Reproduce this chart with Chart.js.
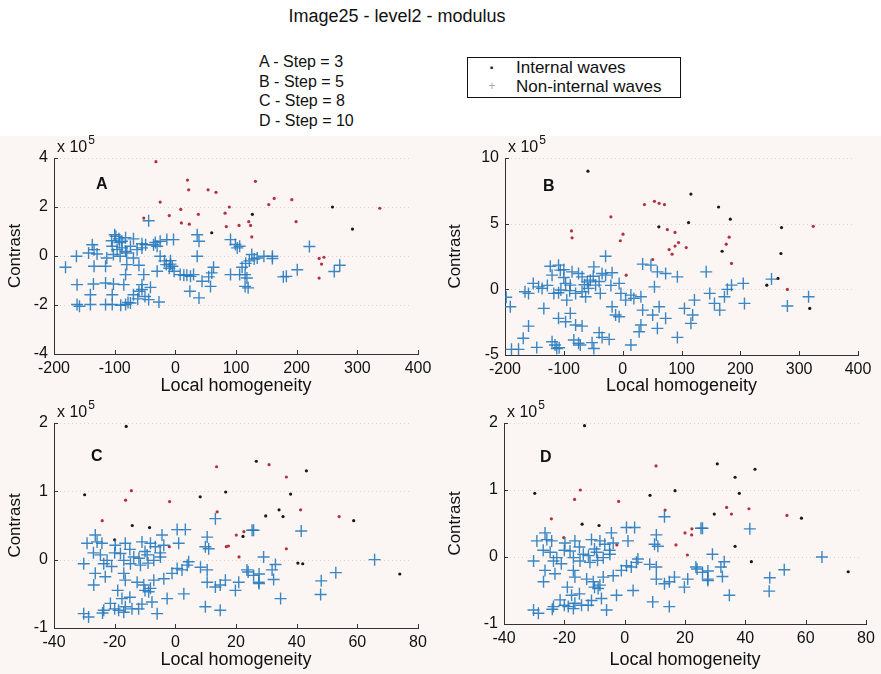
<!DOCTYPE html>
<html>
<head>
<meta charset="utf-8">
<script src="https://cdn.jsdelivr.net/npm/chart.js@4.4.1/dist/chart.umd.min.js"></script>
<style>
  body { margin: 0; width: 881px; height: 674px; position: relative; overflow: hidden; background: #fff;
         font-family: "Liberation Sans", Arial, sans-serif; color: #111; }
  #tint { position: absolute; left: 0; top: 136px; width: 881px; height: 538px; background: #fbf6f4; }
  canvas { position: absolute; }
  #title { position: absolute; left: 0; top: 6px; width: 794px; text-align: center; font-size: 18px; }
  #steps { position: absolute; left: 259px; top: 52px; font-size: 16px; line-height: 19.5px; }
  #legend { position: absolute; left: 467px; top: 57px; width: 212px; height: 39px; border: 1px solid #111;
            font-size: 17px; line-height: 19px; background: #fff; }
  #legend div { position: relative; padding-left: 48px; height: 19px; }
  #legend span { position: absolute; left: 17px; top: 0; width: 14px; text-align: center; }
</style>
</head>
<body>
<div id="tint"></div>
<div id="title">Image25 - level2 - modulus</div>
<div id="steps">
  <div>A - Step = 3</div>
  <div>B - Step = 5</div>
  <div>C - Step = 8</div>
  <div>D - Step = 10</div>
</div>
<div id="legend">
  <div><span style="color:#222;font-weight:bold">·</span>Internal waves</div>
  <div><span style="color:#aaa;font-size:12px">+</span>Non-internal waves</div>
</div>
<canvas id="pA" width="440" height="268" style="left:0;top:132px"></canvas>
<canvas id="pB" width="441" height="268" style="left:440px;top:132px"></canvas>
<canvas id="pC" width="440" height="277" style="left:0;top:397px"></canvas>
<canvas id="pD" width="441" height="277" style="left:440px;top:397px"></canvas>
<script>
// contrast values are in units of 10^5 (shown as "x 10^5" on each axis)
// [local homogeneity, contrast]

// A - step 3
const aNon = [[-100,0.87],[-93,0.7],[-82,0.75],[-69,0.7],[-55,0.5],[-33,0.55],[-25,0.6],[-14,0.67],[-3,0.67],
  [36,0.87],[39,0.6],[91,0.67],[99,0.47],[-98,0.8],[-92,0.55],[-105,0.62],[-88,0.6],
  [-137,0.46],[-134,0.26],[-104,0.4],[-96,0.26],[-88,0.33],[-82,0.19],[-74,0.4],[-63,0.26],[-55,0.33],
  [-49,0.46],[-36,0.46],[-30,0.4],[102,0.33],[106,0.4],
  [-163,-0.01],[-143,0.12],[-129,0.08],[-113,-0.08],[-102,0.06],[-91,-0.01],[-80,0.12],[-69,-0.08],
  [-25,-0.01],[-8,-0.19],[36,-0.01],[126,0.06],[135,-0.08],[146,-0.01],[160,-0.01],[160,-0.1],
  [-181,-0.46],[-134,-0.42],[-115,-0.42],[-80,-0.35],[-60,-0.38],[-8,-0.33],[-5,-0.42],[63,-0.46],
  [110,-0.46],[116,-0.3],[122,-0.2],[130,-0.12],[-18,-0.2],[-15,-0.35],[-10,-0.5],[-2,-0.62],
  [-82,-0.76],[-52,-0.76],[-30,-0.62],[8,-0.76],[14,-0.79],[19,-0.79],[25,-0.83],[30,-0.76],[60,-0.69],
  [55,-0.85],[91,-0.76],[115,-0.76],[118,-0.9],
  [-162,-1.17],[-135,-1.14],[-115,-1.1],[-102,-1.14],[-85,-1.17],[-55,-1.17],[-41,-1.28],[44,-1.03],
  [58,-1.24],[115,-1.24],[120,-1.3],
  [-140,-1.58],[-104,-1.58],[-69,-1.58],[-60,-1.44],[-55,-1.37],[-50,-1.65],[-62,-1.75],[24,-1.44],[39,-1.71],
  [-162,-1.98],[-158,-2.05],[-140,-1.98],[-115,-1.98],[-104,-1.98],[-90,-2.01],[-82,-1.98],[-78,-1.9],
  [-74,-1.92],[-44,-1.78],[-27,-1.88],
  [-44,1.44],[221,0.39],[201,-0.56],[183,-0.83],[178,-0.85],[262,-0.63],[271,-0.38],[106,-0.76]];
const aRed = [[-32,3.85],[20,3.1],[22,2.7],[54,2.7],[67,2.6],[132,3.05],[-25,2.2],[89,2.0],[154,2.1],
  [163,2.35],[192,2.3],[337,1.95],[-10,1.65],[9,1.9],[38,1.7],[82,1.75],[10,1.35],[23,1.3],[84,1.2],
  [105,1.25],[121,1.4],[124,1.25],[126,0.78],[199,1.4],[-52,1.55],[237,-0.1],[245,-0.05],[241,-0.33],[237,-0.9]];
const aDark = [[259,2.0],[292,1.1],[127,1.7],[60,0.95]];

// B - step 5
const bNon = [[-29,2.52],[-123,1.76],[-109,1.84],[-106,1.46],[-86,1.33],[-49,1.71],[-35,1.21],[-29,1.08],
  [-18,1.26],[-69,0.95],[-60,0.57],[-55,0.7],[-46,0.32],[-120,1.08],[-97,0.45],[-89,0.32],[-152,0.45],
  [-143,0.19],[-137,0.07],[-160,-0.31],[-166,-0.18],[-117,-0.31],[-109,-0.26],[-95,-0.82],[-80,-0.31],
  [-69,-0.18],[-63,-0.57],[-58,0.07],[-38,-0.31],[-6,0.45],[-3,-0.31],[-191,-1.33],[-134,-1.45],
  [-18,-1.33],[-12,-1.96],[-6,-2.09],[5,-0.82],[14,-0.44],[19,-0.69],[31,-0.57],[34,-1.58],[31,-2.72],
  [28,-3.23],[59,-2.97],[51,-1.96],[54,0.19],[62,-1.33],[73,-2.21],[34,1.92],[48,1.84],[59,1.33],
  [73,1.21],[93,0.95],[142,1.33],[93,-3.66],[122,-0.82],[105,-1.45],[119,-1.96],[116,-2.59],[148,-0.31],
  [156,-1.07],[165,-1.58],[173,-0.57],[178,0.0],[185,0.32],[205,0.45],[207,-1.07],[-109,-2.21],[-97,-2.47],
  [-89,-1.83],[-80,-2.72],[-69,-2.8],[-160,-2.8],[-169,-3.73],[-189,-4.57],[-177,-4.57],[-146,-4.42],
  [-120,-3.99],[-112,-4.5],[-115,-4.24],[-83,-3.86],[-72,-4.24],[-52,-4.06],[-49,-4.5],[-40,-3.3],
  [-35,-3.66],[-23,-3.81],[14,-4.24],[280,-1.27],[316,-0.57],[253,0.78],[-198,-0.6],
  [-100,0.9],[-75,1.2],[-90,-0.1],[-128,0.3],[-50,1.0],[-40,0.6],[-105,-0.05],[-65,0.35],[-20,0.3],
  [-108,-4.45],[-75,-4.1],[-100,1.5]];
const bRed = [[37,6.45],[54,6.7],[62,6.55],[71,6.45],[-20,5.52],[324,4.8],[-87,4.45],[-86,3.92],[0.6,4.2],
  [-4,3.7],[76,4.55],[89,4.33],[95,3.56],[89,3.29],[79,3.03],[84,2.68],[108,3.18],[181,3.97],[176,3.44],
  [185,1.97],[51,2.27],[6,1.08],[280,-0.01]];
const bDark = [[-59,9.0],[116,7.25],[163,6.27],[112,5.08],[183,5.34],[270,4.7],[61.5,4.76],[169,2.9],
  [269,2.73],[245,0.32],[264,0.83],[318,-1.45]];

// C - step 8
const cNon = [[13.2,0.6],[0.6,0.44],[3.3,0.44],[-4.4,0.36],[-26.4,0.36],[-29.1,0.24],[-25.8,0.26],
  [-24.2,0.24],[-19.8,0.21],[-16.5,0.24],[-11,0.26],[-8.2,0.24],[-6.6,0.19],[-3.8,0.21],[1.1,0.24],
  [10.5,0.33],[11,0.16],[9.9,0.19],[25.8,0.43],[-24.7,0.07],[-22.5,-0.01],[-18.1,0.09],[-17,-0.01],
  [-13.7,0.04],[-12,0.02],[-9.3,0.07],[-7.1,-0.01],[-4.9,0.04],[-14.8,-0.06],[-11.5,-0.08],[-30.2,-0.06],
  [-23.6,-0.06],[-26.4,-0.2],[-26.9,-0.37],[-23.1,-0.25],[-17,-0.2],[-16.5,-0.3],[-3.8,-0.28],[-1.1,-0.2],
  [0.6,-0.13],[2.2,-0.15],[3.9,-0.08],[4.4,-0.03],[8.3,-0.11],[10.5,-0.15],[-12.6,-0.33],[-10.4,-0.37],
  [-8.2,-0.42],[-8.8,-0.47],[-7.1,-0.3],[-2.7,-0.57],[2.8,-0.5],[10.5,-0.33],[13.2,-0.4],[14.8,-0.37],
  [16.5,-0.3],[19.8,-0.45],[20.9,-0.33],[23.6,-0.15],[25.8,-0.23],[27.5,-0.33],[29.1,0.04],[31.9,-0.15],
  [9.9,-0.69],[14.8,-0.74],[-30.2,-0.79],[-28.6,-0.84],[-23.6,-0.74],[-21.4,-0.64],[-17.6,-0.57],
  [-16.5,-0.69],[-14.3,-0.72],[-12.1,-0.72],[-18.7,-0.74],[-17,-0.77],[-7.7,-0.62],[-6,-0.79],
  [33,-0.07],[32.4,-0.29],[34.7,-0.57],[27.6,-0.21],[27.6,-0.35],[25.3,0.43],[41.5,0.42],[48.1,-0.31],
  [47.9,-0.51],[52.9,-0.19],[65.7,0.0],[24,-0.18],
  [-20,0.1],[-15,0.15],[-10,0.12],[-21,-0.1],[-9,-0.05],[-5,0.1],[-27,0.1],[-19,-0.45],[-15,-0.55],
  [-20,-0.72],[-10,-0.45],[-11,-0.65],[-24,-0.78]];
const cRed = [[30.9,1.39],[13.6,1.36],[36.6,1.21],[-14.5,1.01],[-16.4,0.87],[-1.9,0.85],[41.3,0.73],
  [13.8,0.7],[54,0.63],[-24.1,0.57],[20.1,0.36],[22.6,0.41],[16.8,0.19],[17.5,0.2],[36.6,0.16],[21,0.04],[-2,0.19]];
const cDark = [[-16.2,1.95],[26.7,1.44],[43.2,1.3],[-29.9,0.95],[8.2,0.92],[16.6,0.99],[38,0.96],[34.2,0.73],
  [29.8,0.64],[35.5,0.63],[58.8,0.57],[-14.2,0.5],[-8.5,0.47],[22.3,0.34],[-20,0.29],[40.4,-0.05],[42,-0.06],[74,-0.21]];

// D - step 10
const dNon = [[13.2,0.6],[0.6,0.44],[3.3,0.44],[-4.4,0.36],[-26.4,0.36],[-29.1,0.24],[-25.8,0.26],
  [-24.2,0.24],[-19.8,0.21],[-16.5,0.24],[-11,0.26],[-8.2,0.24],[-6.6,0.19],[-3.8,0.21],[1.1,0.24],
  [10.5,0.33],[11,0.16],[9.9,0.19],[25.8,0.43],[-24.7,0.07],[-22.5,-0.01],[-18.1,0.09],[-17,-0.01],
  [-13.7,0.04],[-12,0.02],[-9.3,0.07],[-7.1,-0.01],[-4.9,0.04],[-14.8,-0.06],[-11.5,-0.08],[-30.2,-0.06],
  [-23.6,-0.06],[-26.4,-0.2],[-26.9,-0.37],[-23.1,-0.25],[-17,-0.2],[-16.5,-0.3],[-3.8,-0.28],[-1.1,-0.2],
  [0.6,-0.13],[2.2,-0.15],[3.9,-0.08],[4.4,-0.03],[8.3,-0.11],[10.5,-0.15],[-12.6,-0.33],[-10.4,-0.37],
  [-8.2,-0.42],[-8.8,-0.47],[-7.1,-0.3],[-2.7,-0.57],[2.8,-0.5],[10.5,-0.33],[13.2,-0.4],[14.8,-0.37],
  [16.5,-0.3],[19.8,-0.45],[20.9,-0.33],[23.6,-0.15],[25.8,-0.23],[27.5,-0.33],[29.1,0.04],[31.9,-0.15],
  [9.3,-0.67],[14.8,-0.74],[-30.2,-0.79],[-28.6,-0.84],[-23.6,-0.74],[-21.4,-0.64],[-17.6,-0.57],
  [-16.5,-0.69],[-14.3,-0.72],[-12.1,-0.72],[-18.7,-0.74],[-17,-0.77],[-7.7,-0.62],[-6,-0.79],
  [33,-0.07],[32.4,-0.29],[34.7,-0.57],[27.6,-0.21],[27.6,-0.35],[25.3,0.43],[41.5,0.42],[48.1,-0.31],
  [47.9,-0.51],[52.9,-0.19],[65.4,0.0],[24,-0.18],
  [-20,0.1],[-15,0.15],[-10,0.12],[-21,-0.1],[-9,-0.05],[-5,0.1],[-27,0.1],[-19,-0.45],[-15,-0.55],
  [-20,-0.72],[-10,-0.45],[-11,-0.65],[-24,-0.78]];
const dRed = [[10.4,1.36],[-14.7,1.0],[-16.6,0.86],[-2,0.83],[33.8,0.74],[41.2,0.72],[13.4,0.7],[35.4,0.64],
  [53.8,0.62],[-24.3,0.57],[20,0.36],[22.3,0.42],[22.2,0.33],[-20.2,0.29],[17,0.18],[20.8,0.03],[-2.6,0.18]];
const dDark = [[-13.3,1.96],[30.7,1.39],[43.2,1.31],[36.6,1.19],[-29.8,0.95],[8.4,0.92],[16.7,0.99],[38,0.95],
  [29.7,0.64],[58.6,0.58],[-14.1,0.49],[-8.5,0.47],[36.6,0.16],[42,-0.07],[74.1,-0.22]];

const toXY = arr => arr.map(([x, y]) => ({ x, y }));
const FONT = '"Liberation Sans", Arial, sans-serif';

// inward ticks, faint dotted grid, the x 10^5 multiplier and the panel letter
const panelDeco = {
  id: "panelDeco",
  beforeDatasetsDraw(chart, args, opts) {
    const { ctx, chartArea: a, scales: { x, y } } = chart;
    ctx.save();
    ctx.lineWidth = 1;
    ctx.strokeStyle = "rgba(170,160,160,0.4)";
    ctx.setLineDash([1, 3]);
    y.ticks.forEach((t) => {
      const py = Math.round(y.getPixelForValue(t.value)) + 0.5;
      if (py > a.bottom - 2) return;
      ctx.beginPath(); ctx.moveTo(a.left + 6, py); ctx.lineTo(a.right - 6, py); ctx.stroke();
    });
    ctx.setLineDash([]);
    ctx.strokeStyle = "#333";
    x.ticks.forEach((t) => {
      const px = Math.round(x.getPixelForValue(t.value)) + 0.5;
      ctx.beginPath(); ctx.moveTo(px, a.bottom); ctx.lineTo(px, a.bottom - 4); ctx.stroke();
    });
    y.ticks.forEach((t) => {
      const py = Math.round(y.getPixelForValue(t.value)) + 0.5;
      ctx.beginPath(); ctx.moveTo(a.left, py); ctx.lineTo(a.left + 4, py); ctx.stroke();
    });
    ctx.fillStyle = "#111";
    ctx.textBaseline = "alphabetic";
    ctx.font = "16px " + FONT;
    ctx.fillText("x 10", a.left + 3, a.top - 6);
    const w = ctx.measureText("x 10").width;
    ctx.font = "12px " + FONT;
    ctx.fillText("5", a.left + 4 + w, a.top - 14);
    ctx.font = "bold 16px " + FONT;
    ctx.fillText(opts.tag, a.left + opts.tagX, a.top + opts.tagY);
    ctx.restore();
  },
};

const panels = [
  { id: "pA", tag: "A", tagX: 42, tagY: 31, xMin: -200, xMax: 400, xStep: 100, yMin: -4, yMax: 4, yStep: 2,
    yW: 54, xH: 46, padTop: 26, padRight: 22, non: aNon, red: aRed, dark: aDark },
  { id: "pB", tag: "B", tagX: 38, tagY: 33, xMin: -200, xMax: 400, xStep: 100, yMin: -5, yMax: 10, yStep: 5,
    yW: 65, xH: 45, padTop: 26, padRight: 23, non: bNon, red: bRed, dark: bDark },
  { id: "pC", tag: "C", tagX: 37, tagY: 38, xMin: -40, xMax: 80, xStep: 20, yMin: -1, yMax: 2, yStep: 1,
    yW: 54, xH: 46, padTop: 26, padRight: 22, non: cNon, red: cRed, dark: cDark },
  { id: "pD", tag: "D", tagX: 36, tagY: 39, xMin: -40, xMax: 80, xStep: 20, yMin: -1, yMax: 2, yStep: 1,
    yW: 64, xH: 50, padTop: 26, padRight: 15, non: dNon, red: dRed, dark: dDark },
];

panels.forEach((p) => {
  new Chart(document.getElementById(p.id), {
    type: "scatter",
    data: {
      datasets: [
        { label: "Non-internal waves", data: toXY(p.non), pointStyle: "cross", pointRadius: 6,
          borderColor: "rgba(38,122,190,0.9)", borderWidth: 1.4, backgroundColor: "rgba(38,122,190,0.9)" },
        { label: "Internal waves", data: toXY(p.red), pointStyle: "circle", pointRadius: 1.6,
          backgroundColor: "#b4303e", borderWidth: 0 },
        { label: "Internal waves", data: toXY(p.dark), pointStyle: "circle", pointRadius: 1.6,
          backgroundColor: "#1e1616", borderWidth: 0 },
      ],
    },
    options: {
      responsive: false,
      animation: false,
      events: [],
      layout: { padding: { top: p.padTop, right: p.padRight, left: 0, bottom: 0 } },
      plugins: {
        legend: { display: false },
        tooltip: { enabled: false },
        panelDeco: { tag: p.tag, tagX: p.tagX, tagY: p.tagY },
      },
      scales: {
        x: {
          type: "linear", min: p.xMin, max: p.xMax,
          afterFit: (s) => { s.height = p.xH; },
          grid: { display: false, drawTicks: false },
          border: { display: true, color: "#333", width: 1 },
          ticks: { stepSize: p.xStep, padding: 5, color: "#111", font: { family: FONT, size: 16 },
                   maxRotation: 0, callback: (v) => String(v) },
          title: { display: true, text: "Local homogeneity", color: "#111",
                   font: { family: FONT, size: 18 }, padding: { top: 0, bottom: 3 } },
        },
        y: {
          type: "linear", min: p.yMin, max: p.yMax,
          afterFit: (s) => { s.width = p.yW; },
          grid: { display: false, drawTicks: false },
          border: { display: true, color: "#333", width: 1 },
          ticks: { stepSize: p.yStep, padding: 6, color: "#111", font: { family: FONT, size: 16 },
                   callback: (v) => String(v) },
          title: { display: true, text: "Contrast", color: "#111",
                   font: { family: FONT, size: 17 }, padding: { top: 5, bottom: 0 } },
        },
      },
    },
    plugins: [panelDeco],
  });
});
</script>
</body>
</html>
